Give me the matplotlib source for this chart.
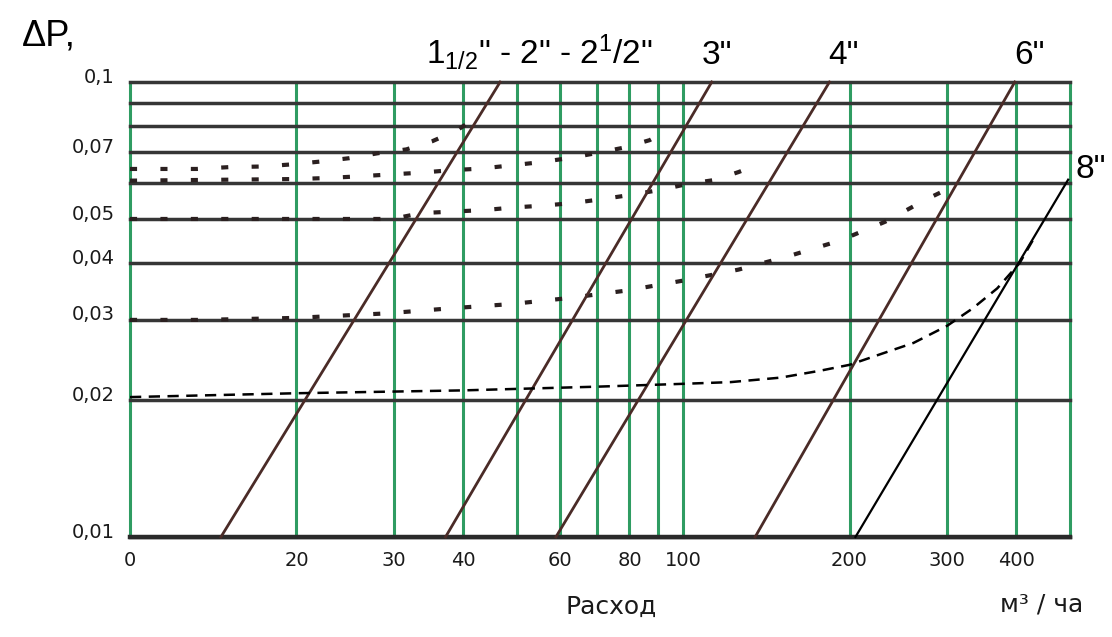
import numpy as np
import matplotlib
matplotlib.use('Agg')
import matplotlib.pyplot as plt
import matplotlib.transforms as mtransforms
from matplotlib.ticker import NullLocator

plt.rcParams['font.family'] = ['DejaVu Sans']
plt.rcParams['mathtext.default'] = 'regular'

# flow axis (m3/h), log scale; the first tick is labelled "0" in the original
x_ticks = [10, 20, 30, 40, 60, 80, 100, 200, 300, 400]
x_labels = ['0', '20', '30', '40', '60', '80', '100', '200', '300', '400']
x_grid = [10, 20, 30, 40, 50, 60, 70, 80, 90, 100, 200, 300, 400, 500]

# pressure drop axis, log scale
y_ticks = [0.01, 0.02, 0.03, 0.04, 0.05, 0.07, 0.1]
y_labels = ['0,01', '0,02', '0,03', '0,04', '0,05', '0,07', '0,1']
y_grid = [0.01, 0.02, 0.03, 0.04, 0.05, 0.06, 0.07, 0.08, 0.09, 0.1]

# pipe lines: flow at dP = 0.01 and at dP = 0.1
pipe_q_low = [14.6, 37.2, 58.9, 135]
pipe_q_high = [46.7, 112.7, 184, 398]
pipe_dp = [0.01, 0.1]

# 8" line
pipe8_q = [205, 497]
pipe8_dp = [0.01, 0.061]

# dotted curves
curve_a_q = [10, 11.7, 13.2, 15.1, 17.3, 19.6, 22.2, 24.9, 28, 31.6, 35.2, 39, 42.2]
curve_a_dp = [0.0644, 0.0644, 0.0644, 0.065, 0.0652, 0.0659, 0.0669, 0.068, 0.0697, 0.0711, 0.0741, 0.0783, 0.0834]

curve_b_q = [10, 20, 22.6, 25.7, 29.3, 33.6, 38, 43, 49, 55, 62, 69.4, 78, 87, 95]
curve_b_dp = [0.0607, 0.0612, 0.0615, 0.062, 0.0626, 0.0632, 0.064, 0.0645, 0.0656, 0.0666, 0.068, 0.0697, 0.0717, 0.0745, 0.079]

curve_c_q = [10, 17.2, 29.8, 33.6, 38.2, 43.7, 49.4, 55.9, 63.3, 71.5, 80.6, 90.8, 102, 114, 126, 139]
curve_c_dp = [0.05, 0.05, 0.05, 0.0515, 0.0519, 0.0523, 0.053, 0.0535, 0.0542, 0.0553, 0.0565, 0.0579, 0.0597, 0.0609, 0.0634, 0.0664]

curve_d_q = [10, 13.4, 19.8, 29, 37.8, 48.8, 62, 79, 100, 126, 156, 192, 232, 276, 295]
curve_d_dp = [0.03, 0.03, 0.0303, 0.031, 0.0318, 0.0325, 0.0335, 0.0348, 0.0366, 0.0387, 0.0415, 0.0448, 0.0493, 0.0553, 0.0575]

# dashed curve
dash_q = [10, 20, 40, 70, 99, 122, 150, 177, 200, 227, 261, 300, 334, 370, 406, 429]
dash_dp = [0.0203, 0.0207, 0.021, 0.0214, 0.0217, 0.0219, 0.0224, 0.0232, 0.0239, 0.0252,
           0.0267, 0.0291, 0.0318, 0.0352, 0.04, 0.0449]


W, H = 1112, 637
fig = plt.figure(figsize=(W / 100, H / 100), dpi=100)
ax = fig.add_axes([130 / W, 1 - 537 / H, (1069.6 - 130) / W, (537 - 82) / H])
ax.set_xscale('log')
ax.set_yscale('log')
ax.set_xlim(10, 500)
ax.set_ylim(0.01, 0.1)
for s in ax.spines.values():
    s.set_visible(False)

green = '#2f9c62'
dark = '#363636'
for q in x_grid:
    ax.axvline(q, color=green, lw=2.2, zorder=1, clip_on=False)
for p in y_grid:
    ax.axhline(p, color=dark, lw=2.5, zorder=2, clip_on=False)
ax.axhline(0.01, color='#2a2a2a', lw=3.2, zorder=2, clip_on=False)

ax.set_xticks(x_ticks)
ax.set_xticklabels(x_labels)
ax.set_yticks(y_ticks)
ax.set_yticklabels(y_labels)
ax.xaxis.set_minor_locator(NullLocator())
ax.yaxis.set_minor_locator(NullLocator())
ax.tick_params(length=0, labelsize=14, colors='#1a1a1a')
ax.tick_params(axis='x', pad=10)
ax.tick_params(axis='y', pad=11)
up = mtransforms.ScaledTranslation(0, 5 / 72, fig.dpi_scale_trans)
for lab in ax.get_yticklabels():
    lab.set_transform(lab.get_transform() + up)

# pipe lines
for q0, q1 in zip(pipe_q_low, pipe_q_high):
    ax.plot([q0, q1], pipe_dp, color='#4a2b27', lw=2.0, zorder=4, clip_on=False)
ax.plot(pipe8_q, pipe8_dp, color='black', lw=1.6, zorder=4, clip_on=False)

# dotted curves
for qq, dd in [(curve_a_q, curve_a_dp), (curve_b_q, curve_b_dp),
               (curve_c_q, curve_c_dp), (curve_d_q, curve_d_dp)]:
    ax.plot(qq, dd, color='#2b2020', lw=3.0, linestyle=(0, (1.7, 5.6)), zorder=3)

ax.plot(dash_q, dash_dp, color='black', lw=1.8, linestyle=(0, (4.5, 3.0)), zorder=5)

# labels
big = dict(fontsize=24, family=['Liberation Sans', 'DejaVu Sans'], color='black')
ax.text(55, 0.1095, '1$_{1/2}$" - 2" - 2$^{1}$/2"', ha='center', va='baseline', clip_on=False, **big)
ax.text(115, 0.1095, '3"', ha='center', va='baseline', clip_on=False, **big)
ax.text(195, 0.1095, '4"', ha='center', va='baseline', clip_on=False, **big)
ax.text(424, 0.1095, '6"', ha='center', va='baseline', clip_on=False, **big)
ax.text(512, 0.0615, '8"', ha='left', va='baseline', clip_on=False, **big)

fig.text(22 / W, 1 - 46 / H, 'ΔP,', ha='left', va='baseline',
         fontsize=26, family=['Liberation Sans', 'DejaVu Sans'], color='black')
fig.text(611 / W, 1 - 607 / H, 'Расход', ha='center', va='center', fontsize=18, color='#1a1a1a')
fig.text(1042 / W, 1 - 605 / H, 'м³ / ча', ha='center', va='center', fontsize=18, color='#1a1a1a')

fig.savefig('out.png', dpi=100, facecolor='white')
